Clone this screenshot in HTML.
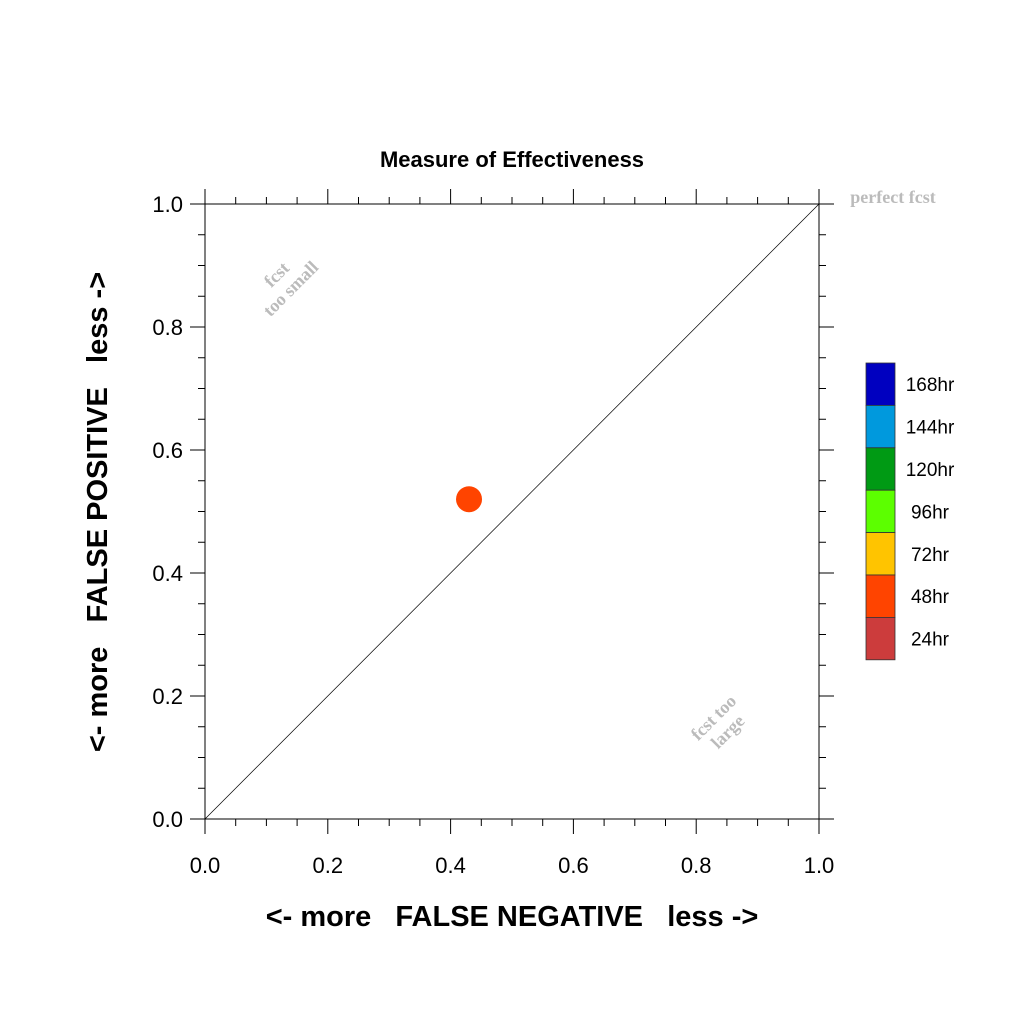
<!DOCTYPE html>
<html><head><meta charset="utf-8"><style>
html,body{margin:0;padding:0;background:#fff;}
svg{display:block;font-family:"Liberation Sans",sans-serif;}
</style></head><body>
<svg id="chart" width="1024" height="1024" viewBox="0 0 1024 1024" xmlns="http://www.w3.org/2000/svg">
<rect width="1024" height="1024" fill="#fff"/>
<text x="512" y="167" text-anchor="middle" font-size="22" font-weight="bold">Measure of Effectiveness</text>
<g id="axes" stroke="#000" stroke-width="1"></g>
<line id="diag" stroke="#000" stroke-width="0.7"/>
<g id="xlabels" font-size="22" text-anchor="middle"></g>
<g id="ylabels" font-size="22" text-anchor="end"></g>
<text x="512" y="926" text-anchor="middle" font-size="29" font-weight="bold" xml:space="preserve">&lt;- more   FALSE NEGATIVE   less -&gt;</text>
<text transform="translate(107,512) rotate(-90)" text-anchor="middle" font-size="29" font-weight="bold" xml:space="preserve">&lt;- more   FALSE POSITIVE   less -&gt;</text>
<g font-family="Liberation Serif,serif" font-weight="bold" font-size="18" fill="#bbbbbb" text-anchor="middle">
<text x="893" y="203" text-anchor="middle">perfect fcst</text>
<g transform="translate(285,283) rotate(-45)"><text x="0" y="-6">fcst</text><text x="0" y="14">too small</text></g>
<g transform="translate(722,726) rotate(-45)"><text x="0" y="-6">fcst too</text><text x="0" y="14">large</text></g>
</g>
<g id="points"></g>
<g id="legend" font-size="19"></g>
</svg>
<script>
const xTicks=[0,0.2,0.4,0.6,0.8,1.0];
const xTickLabels=["0.0","0.2","0.4","0.6","0.8","1.0"];
const yTicks=[0,0.2,0.4,0.6,0.8,1.0];
const yTickLabels=["0.0","0.2","0.4","0.6","0.8","1.0"];
const pointX=[0.43];
const pointY=[0.52];
const pointColors=["#ff4400"];
const legendLabels=["168hr","144hr","120hr","96hr","72hr","48hr","24hr"];
const legendColors=["#0000c0","#0099dd","#009a14","#5cff00","#ffc400","#ff4400","#cc3c3c"];
const NS="http://www.w3.org/2000/svg";
const X0=205,X1=819,Y0=819,Y1=204;
const sx=v=>X0+(X1-X0)*v, sy=v=>Y0-(Y0-Y1)*v;
function L(g,x1,y1,x2,y2){const l=document.createElementNS(NS,'line');l.setAttribute('x1',x1);l.setAttribute('y1',y1);l.setAttribute('x2',x2);l.setAttribute('y2',y2);g.appendChild(l);return l;}
const ax=document.getElementById('axes');
let a;
a=L(ax,X0,Y1-15,X0,Y0);


a=L(ax,X0,Y0,X1+15,Y0);


a=L(ax,X0-15,Y1,X1,Y1);


a=L(ax,X1,Y1,X1,Y0+15);


for(let i=1;i<20;i++){const v=i/20;if(i%4===0)continue;
 const t=[L(ax,sx(v),Y0,sx(v),Y0+7),L(ax,sx(v),Y1,sx(v),Y1-7),L(ax,X0,sy(v),X0-7,sy(v)),L(ax,X1,sy(v),X1+7,sy(v))];
 t.forEach(e=>{});}
xTicks.forEach(v=>{[L(ax,sx(v),Y0,sx(v),Y0+15),L(ax,sx(v),Y1,sx(v),Y1-15)].forEach(e=>{});});
yTicks.forEach(v=>{[L(ax,X0,sy(v),X0-15,sy(v)),L(ax,X1,sy(v),X1+15,sy(v))].forEach(e=>{});});
const d=document.getElementById('diag');
d.setAttribute('x1',sx(0));d.setAttribute('y1',sy(0));d.setAttribute('x2',sx(1));d.setAttribute('y2',sy(1));
const xl=document.getElementById('xlabels');
xTicks.forEach((v,i)=>{const t=document.createElementNS(NS,'text');t.setAttribute('x',sx(v));t.setAttribute('y',873);t.textContent=xTickLabels[i];


xl.appendChild(t);});
const yl=document.getElementById('ylabels');
yTicks.forEach((v,i)=>{const t=document.createElementNS(NS,'text');t.setAttribute('x',183);t.setAttribute('y',sy(v)+8);t.textContent=yTickLabels[i];


yl.appendChild(t);});
const pg=document.getElementById('points');
pointX.forEach((v,i)=>{const c=document.createElementNS(NS,'circle');c.setAttribute('cx',sx(v));c.setAttribute('cy',sy(pointY[i]));c.setAttribute('r',13);c.setAttribute('fill',pointColors[i]);


pg.appendChild(c);});
const lg=document.getElementById('legend');
const LX=866,LY=363,LW=29,LH=42.4;
legendLabels.forEach((lab,i)=>{const r=document.createElementNS(NS,'rect');r.setAttribute('x',LX);r.setAttribute('y',LY+i*LH);r.setAttribute('width',LW);r.setAttribute('height',LH);r.setAttribute('fill',legendColors[i]);r.setAttribute('stroke','#333');r.setAttribute('stroke-width','0.8');


lg.appendChild(r);
const t=document.createElementNS(NS,'text');t.setAttribute('x',930);t.setAttribute('y',LY+i*LH+LH/2+7);t.setAttribute('text-anchor','middle');t.textContent=lab;


lg.appendChild(t);});
</script>
</body></html>
